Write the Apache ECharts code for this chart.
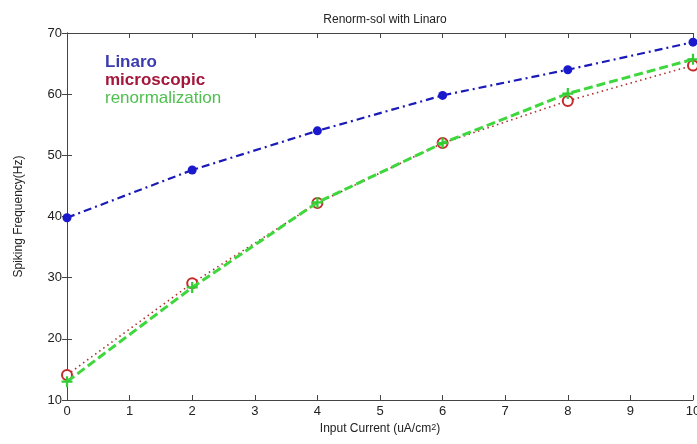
<!DOCTYPE html>
<html>
<head>
<meta charset="utf-8">
<script src="https://cdn.jsdelivr.net/npm/echarts@6/dist/echarts.min.js"></script>
<style>
html,body{margin:0;padding:0;background:#fff;}
#c{width:697px;height:444px;}
</style>
</head>
<body>
<div id="c"></div>
<script>
var categories = [0, 2, 4, 6, 8, 10];
var linaro = [39.8, 47.6, 54.0, 59.8, 64.0, 68.5];
var microscopic = [14.1, 29.1, 42.2, 52.0, 58.9, 64.7];
var renormalization = [13.0, 28.4, 42.3, 52.0, 60.1, 65.7];
var xTicks = [0, 1, 2, 3, 4, 5, 6, 7, 8, 9, 10];
var yTicks = [10, 20, 30, 40, 50, 60, 70];

function pairs(vals) {
  return categories.map(function (x, i) { return [x, vals[i]]; });
}

var font = 'Liberation Sans, Arial, sans-serif';
var axisColor = '#444';
var chart = echarts.init(document.getElementById('c'));
var frameAxis = {
  axisLine: { show: true, lineStyle: { color: axisColor, width: 1 } },
  axisTick: { show: true, inside: true, length: 5, lineStyle: { color: axisColor } },
  splitLine: { show: false }
};
chart.setOption({
  animation: false,
  backgroundColor: '#fff',
  title: {
    text: 'Renorm-sol with Linaro',
    left: 380, top: 9, textAlign: 'center',
    textStyle: { fontFamily: font, fontSize: 12, fontWeight: 'normal', color: '#222' }
  },
  legend: {
    orient: 'vertical', left: 100, top: 54, itemWidth: 0, itemHeight: 0, itemGap: 1,
    padding: 0,
    icon: 'none', selectedMode: false,
    textStyle: { fontFamily: font, fontSize: 17, fontWeight: 'bold', padding: 0 },
    data: [
      { name: 'Linaro', textStyle: { color: '#3b3bb0' } },
      { name: 'microscopic', textStyle: { color: '#a3163a' } },
      { name: 'renormalization', textStyle: { color: '#4fc04f', fontWeight: 'normal' } }
    ]
  },
  grid: { left: 67, right: 4, top: 33, bottom: 44, containLabel: false, outerBoundsMode: 'none' },
  xAxis: [
    Object.assign({
      type: 'value', min: 0, max: 10, interval: 1, position: 'bottom',
      name: 'Input Current (uA/cm{sup|2})', nameLocation: 'middle', nameGap: 23,
      nameTextStyle: { fontFamily: font, fontSize: 12, color: '#222',
        rich: { sup: { fontSize: 9, verticalAlign: 'top', lineHeight: 10, padding: [0, 0, 6, 0], fontFamily: font, color: '#222' } } },
      axisLabel: { fontFamily: font, fontSize: 13, color: '#222', margin: 5,
        formatter: function (v) { return xTicks.indexOf(v) >= 0 ? String(v) : ''; } }
    }, frameAxis),
    Object.assign({
      type: 'value', min: 0, max: 10, interval: 1, position: 'top',
      axisLabel: { show: false }
    }, frameAxis)
  ],
  yAxis: [
    Object.assign({
      type: 'value', min: 10, max: 70, interval: 10, position: 'left',
      name: 'Spiking Frequency(Hz)', nameLocation: 'middle', nameGap: 42, nameRotate: 90,
      nameTextStyle: { fontFamily: font, fontSize: 12, color: '#222' },
      axisLabel: { fontFamily: font, fontSize: 13, color: '#222', margin: 5,
        formatter: function (v) { return yTicks.indexOf(v) >= 0 ? String(v) : ''; } }
    }, frameAxis),
    Object.assign({
      type: 'value', min: 10, max: 70, interval: 10, position: 'right',
      axisLabel: { show: false }
    }, frameAxis)
  ],
  series: [
    {
      name: 'Linaro', type: 'line', data: pairs(linaro), z: 2,
      symbol: 'circle', symbolSize: 9,
      itemStyle: { color: '#1a1acc' },
      lineStyle: { color: '#1a1ab8', width: 2.2, type: [8, 4, 2, 4] }
    },
    {
      name: 'microscopic', type: 'line', data: pairs(microscopic), z: 3,
      symbol: 'emptyCircle', symbolSize: 10,
      itemStyle: { color: '#c42a2a', borderColor: '#c42a2a', borderWidth: 2 },
      lineStyle: { color: '#b03030', width: 1.6, type: [1.5, 3.5] }
    },
    {
      name: 'renormalization', type: 'line', data: pairs(renormalization), z: 4,
      symbol: 'path://M4,0h2v4h4v2h-4v4h-2v-4h-4v-2h4z', symbolSize: 11,
      itemStyle: { color: '#33cc33' },
      lineStyle: { color: '#3ed83e', width: 3, type: [9, 4] }
    }
  ]
});
</script>
</body>
</html>
